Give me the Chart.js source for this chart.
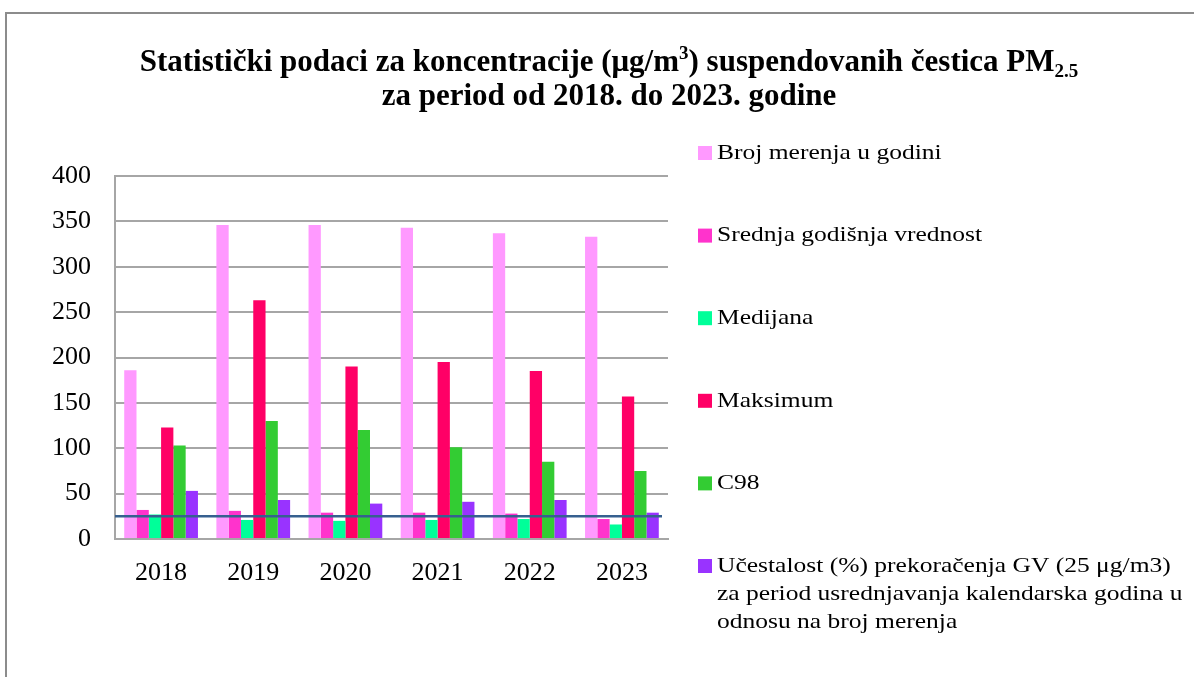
<!DOCTYPE html>
<html>
<head>
<meta charset="utf-8">
<script src="https://cdn.jsdelivr.net/npm/chart.js@4/dist/chart.umd.min.js"></script>
<style>
    html, body { margin: 0; padding: 0; background: #fff; }
    #wrap { position: relative; width: 1194px; height: 677px; overflow: hidden; }
    #frame { position: absolute; left: 5px; top: 12px; width: 1200px; height: 680px;
             border-left: 2px solid #8c8c8c; border-top: 2px solid #8c8c8c; }
    canvas { position: absolute; left: 0; top: 0; }
</style>
</head>
<body>
<div id="wrap">
    <div id="frame"></div>
    <canvas id="pmChart" width="1194" height="677"></canvas>
</div>
<script>
// podaci očitani sa grafika
const godine = ['2018', '2019', '2020', '2021', '2022', '2023'];
const brojMerenja = [186, 346, 346, 343, 337, 333];
const srednjaVrednost = [32, 31, 29, 29, 28, 22];
const medijana = [27, 21, 20, 21, 22, 16];
const maksimum = [123, 263, 190, 195, 185, 157];
const c98 = [103, 130, 120, 101, 85, 75];
const ucestalost = [53, 43, 39, 41, 43, 29];
const granicnaVrednost = 25;
const yMax = 400;
const yKorak = 50;

const nazivi = [
    ['Broj merenja u godini'],
    ['Srednja godišnja vrednost'],
    ['Medijana'],
    ['Maksimum'],
    ['C98'],
    ['Učestalost (%) prekoračenja GV (25 μg/m3)',
     'za period usrednjavanja kalendarska godina u',
     'odnosu na broj merenja']
];
const boje = ['#FF99FF', '#FF33CC', '#00FF99', '#FF0066', '#33CC33', '#9933FF'];
const serije = [brojMerenja, srednjaVrednost, medijana, maksimum, c98, ucestalost];

const FONT = '"Liberation Serif", "Times New Roman", serif';

// naslov sa eksponentom i indeksom
const naslovPlugin = {
    id: 'naslov',
    afterDraw(chart) {
        const ctx = chart.ctx;
        const big = 'bold 31px ' + FONT;
        const small = 'bold 19px ' + FONT;
        const delovi = [
            { t: 'Statistički podaci za koncentracije (μg/m', f: big, dy: 0 },
            { t: '3', f: small, dy: -9 },
            { t: ') suspendovanih čestica PM', f: big, dy: 0 },
            { t: '2.5', f: small, dy: 9 }
        ];
        const cx = 609;
        ctx.save();
        ctx.fillStyle = '#000';
        ctx.textBaseline = 'middle';
        let w = 0;
        delovi.forEach(d => { ctx.font = d.f; w += ctx.measureText(d.t).width; });
        let x = cx - w / 2;
        delovi.forEach(d => {
            ctx.font = d.f;
            ctx.textAlign = 'left';
            ctx.fillText(d.t, x, 63 + d.dy);
            x += ctx.measureText(d.t).width;
        });
        ctx.font = big;
        ctx.textAlign = 'center';
        ctx.fillText('za period od 2018. do 2023. godine', cx, 97);
        ctx.restore();
    }
};

// granična vrednost 25
const gvPlugin = {
    id: 'gvLinija',
    afterDatasetsDraw(chart) {
        const { ctx, chartArea, scales } = chart;
        const y = scales.y.getPixelForValue(granicnaVrednost);
        ctx.save();
        ctx.strokeStyle = '#36608F';
        ctx.lineWidth = 2.5;
        ctx.beginPath();
        ctx.moveTo(chartArea.left, y);
        ctx.lineTo(chartArea.right - 6, y);
        ctx.stroke();
        ctx.restore();
    }
};

// legenda desno, sa više redova za poslednju seriju
const legendaPlugin = {
    id: 'legenda',
    afterDraw(chart) {
        const ctx = chart.ctx;
        ctx.save();
        ctx.font = '22px ' + FONT;
        ctx.textBaseline = 'middle';
        ctx.textAlign = 'left';
        chart.data.datasets.forEach((ds, i) => {
            const y = 153 + i * 82.6;
            ctx.fillStyle = ds.backgroundColor;
            ctx.fillRect(698, y - 7, 14, 14);
            ctx.fillStyle = '#000';
            nazivi[i].forEach((red, j) => {
                ctx.save();
                ctx.translate(717, y + j * 28);
                ctx.scale(1.16, 1);
                ctx.fillText(red, 0, 0);
                ctx.restore();
            });
        });
        ctx.restore();
    }
};

new Chart(document.getElementById('pmChart'), {
    type: 'bar',
    data: {
        labels: godine,
        datasets: serije.map((s, i) => ({
            label: nazivi[i].join(' '),
            data: s,
            backgroundColor: boje[i],
            borderWidth: 0,
            categoryPercentage: 0.8,
            barPercentage: 1.0
        }))
    },
    options: {
        responsive: false,
        animation: false,
        devicePixelRatio: 1,
        layout: { padding: { left: 0, top: 176, right: 526, bottom: 0 } },
        plugins: {
            legend: { display: false },
            title: { display: false },
            tooltip: { enabled: false }
        },
        scales: {
            x: {
                grid: { display: false, drawTicks: false },
                border: { color: '#a6a6a6', width: 2 },
                ticks: { color: '#000', font: { family: FONT, size: 26 }, padding: 19 },
                afterFit: s => { s.height = 138; }
            },
            y: {
                min: 0,
                max: yMax,
                ticks: { stepSize: yKorak, color: '#000', font: { family: FONT, size: 26 }, padding: 24 },
                grid: { color: '#a6a6a6', lineWidth: 2, drawTicks: false },
                border: { color: '#a6a6a6', width: 2 },
                afterFit: s => { s.width = 115; }
            }
        }
    },
    plugins: [gvPlugin, naslovPlugin, legendaPlugin]
});
</script>
</body>
</html>
